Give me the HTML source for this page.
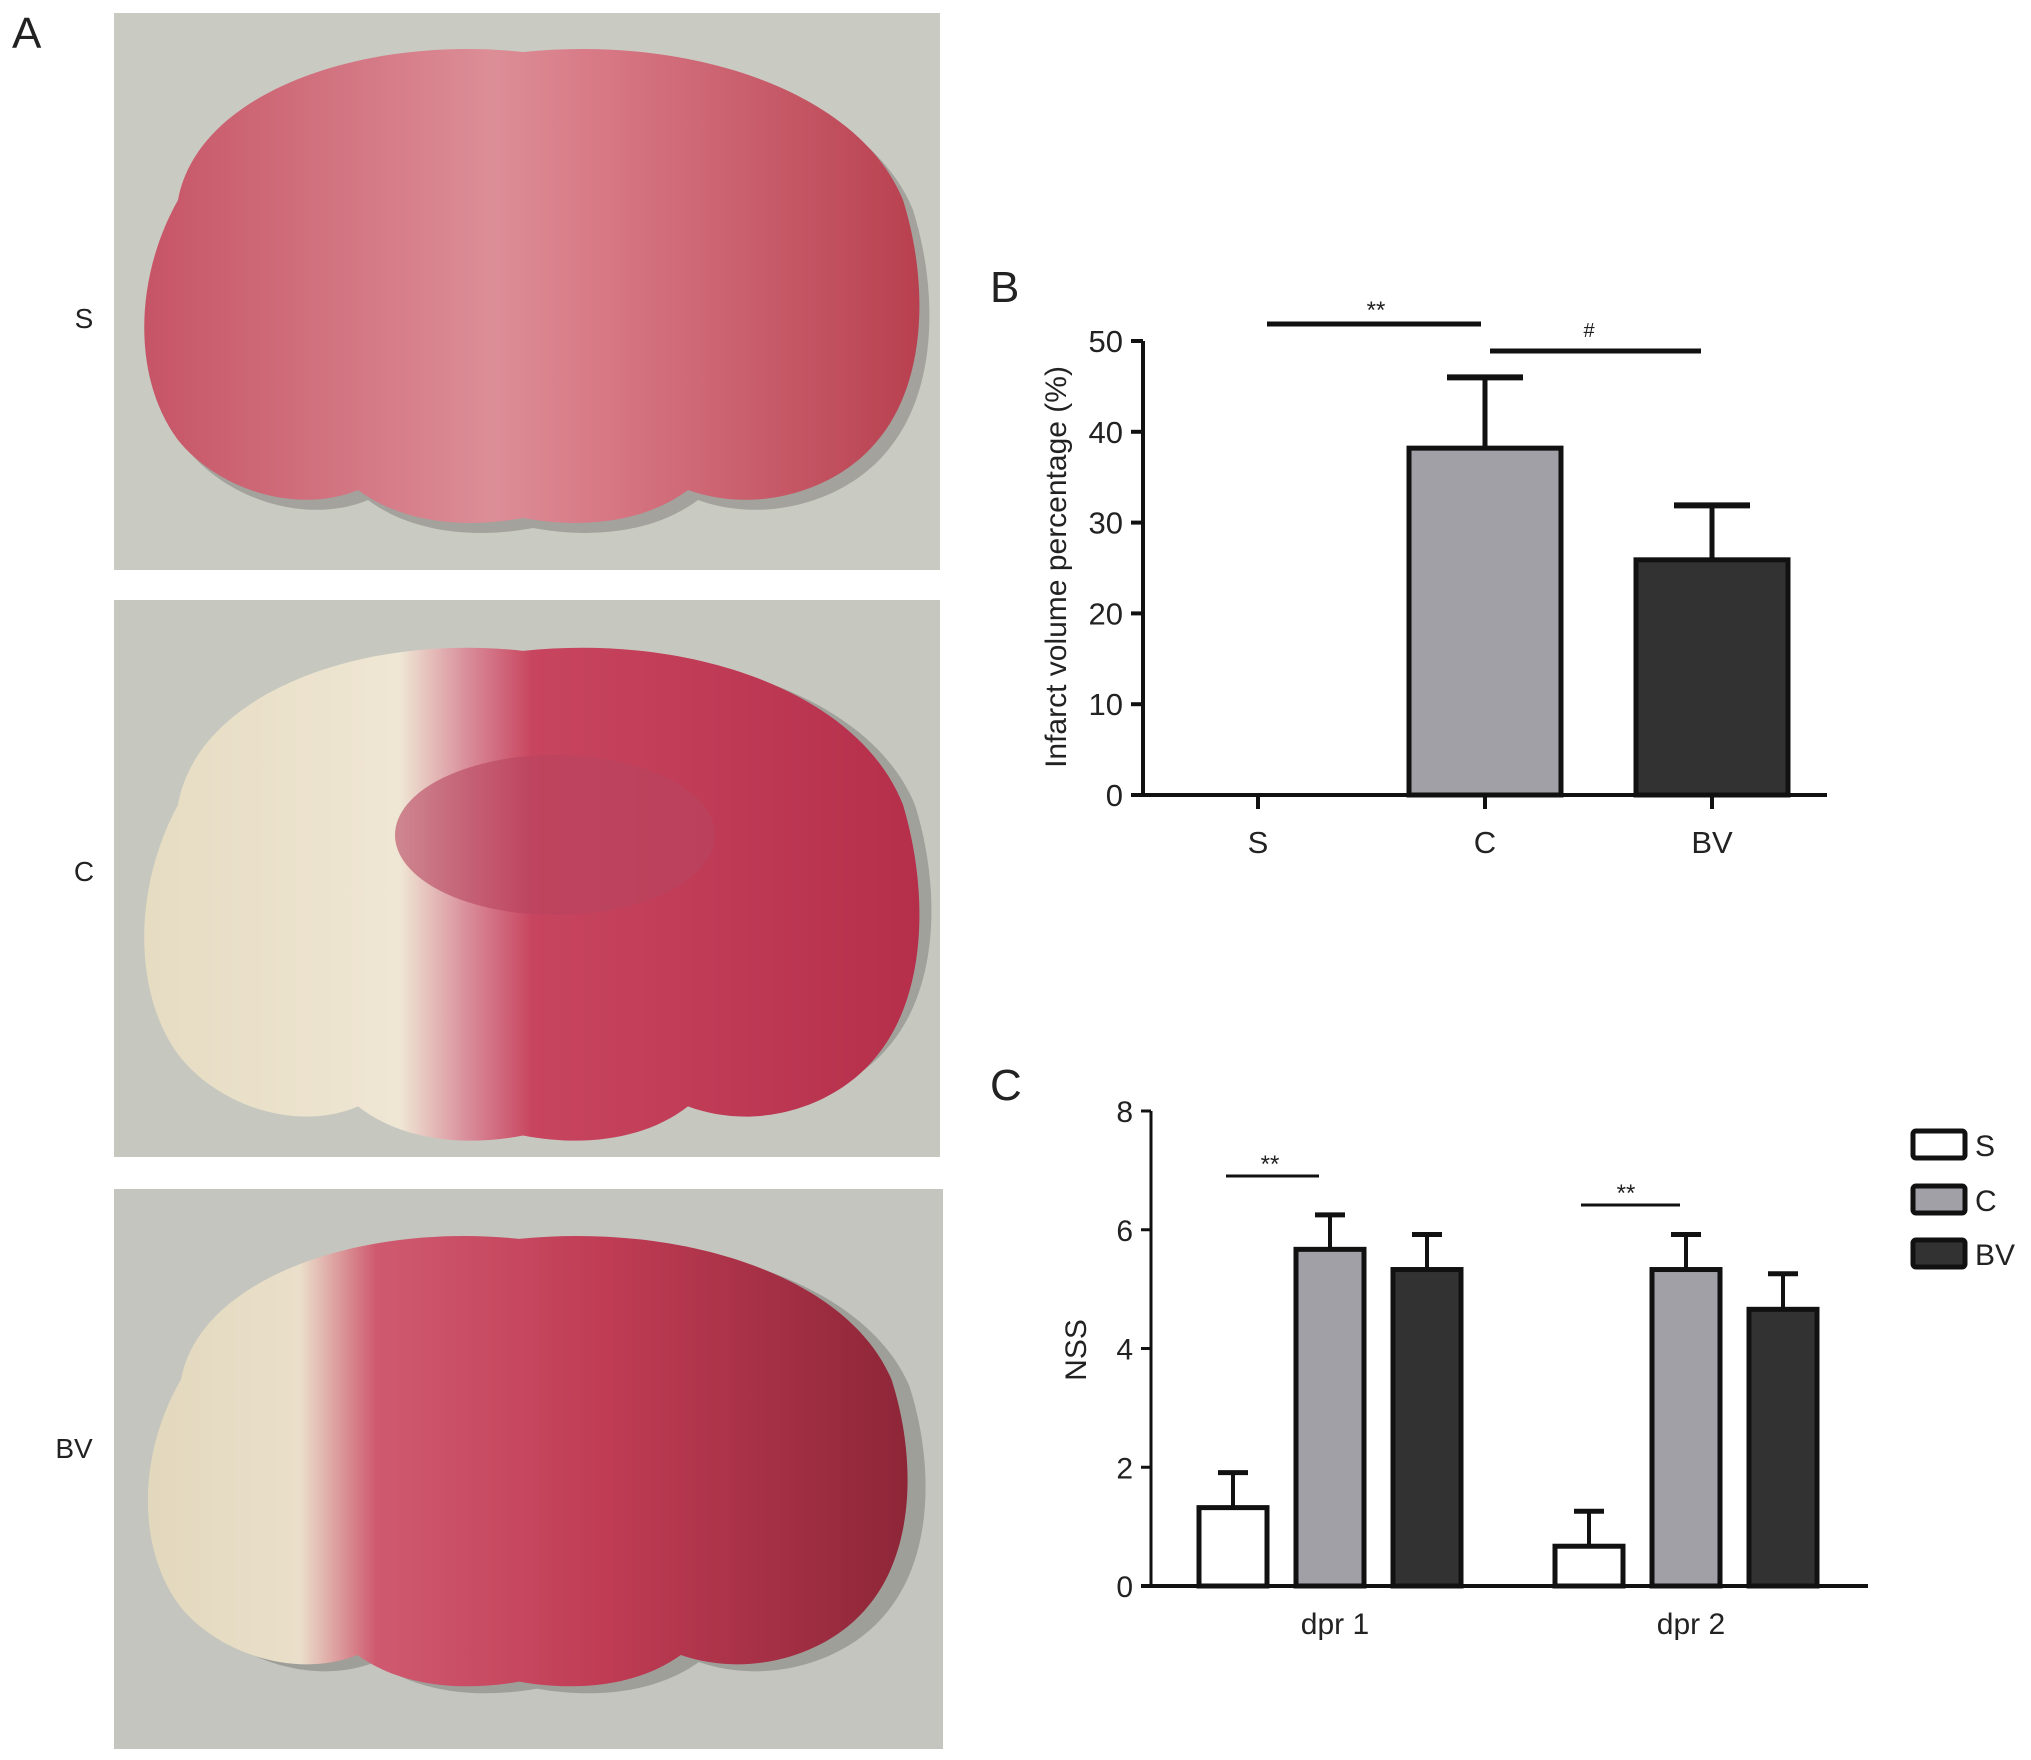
<!DOCTYPE html>
<html><head><meta charset="utf-8"><style>
body{margin:0;background:#fff;width:2031px;height:1760px;overflow:hidden;font-family:"Liberation Sans",Arial,sans-serif}
svg{position:absolute;left:0;top:0}
</style></head><body>
<svg id="fig" width="2031" height="1760" viewBox="0 0 2031 1760" xmlns="http://www.w3.org/2000/svg">
<defs>
<linearGradient id="g1" x1="0" x2="1" y1="0" y2="0"><stop offset="0" stop-color="#c65466"/><stop offset="0.45" stop-color="#dc8e97"/><stop offset="0.6" stop-color="#d77784"/><stop offset="1" stop-color="#b8404f"/></linearGradient>
<linearGradient id="g2" x1="0" x2="1" y1="0" y2="0"><stop offset="0" stop-color="#e6dcc2"/><stop offset="0.33" stop-color="#efe6d4"/><stop offset="0.42" stop-color="#d88a98"/><stop offset="0.5" stop-color="#c8455f"/><stop offset="1" stop-color="#b52f4b"/></linearGradient>
<linearGradient id="g3" x1="0" x2="1" y1="0" y2="0"><stop offset="0" stop-color="#e2d8bd"/><stop offset="0.2" stop-color="#eadfca"/><stop offset="0.3" stop-color="#cf5a70"/><stop offset="0.6" stop-color="#c03c55"/><stop offset="1" stop-color="#8e2638"/></linearGradient>
</defs>
<g id="panel-a">
<text x="12" y="48" font-size="44" fill="#222">A</text>
<rect x="114" y="13" width="826" height="557" fill="#c9cac2"/>
<rect x="114" y="600" width="826" height="557" fill="#c6c8c0"/>
<rect x="114" y="1189" width="829" height="560" fill="#c4c5be"/>
<path transform="translate(138,40) scale(1.0,1.0)" d="M50,170 C70,60 240,5 395,22 C560,5 730,60 775,170 C800,250 800,350 750,410 C710,460 630,485 560,460 C520,490 460,500 395,488 C330,500 270,490 230,460 C170,485 90,460 50,410 C5,350 5,250 50,170 Z" fill="#5b5a55" opacity="0.35"/>
<path transform="translate(128,30)" d="M50,170 C70,60 240,5 395,22 C560,5 730,60 775,170 C800,250 800,350 750,410 C710,460 630,485 560,460 C520,490 460,500 395,488 C330,500 270,490 230,460 C170,485 90,460 50,410 C5,350 5,250 50,170 Z" fill="url(#g1)"/>
<path transform="translate(140,635)" d="M50,170 C70,60 240,5 395,22 C560,5 730,60 775,170 C800,250 800,350 750,410 C710,460 630,485 560,460 C520,490 460,500 395,488 C330,500 270,490 230,460 C170,485 90,460 50,410 C5,350 5,250 50,170 Z" fill="#5b5a55" opacity="0.35"/>
<path transform="translate(128,628) scale(1.0,1.04)" d="M50,170 C70,60 240,5 395,22 C560,5 730,60 775,170 C800,250 800,350 750,410 C710,460 630,485 560,460 C520,490 460,500 395,488 C330,500 270,490 230,460 C170,485 90,460 50,410 C5,350 5,250 50,170 Z" fill="url(#g2)"/>
<ellipse cx="555" cy="835" rx="160" ry="80" fill="#b8455f" opacity="0.6"/>
<path transform="translate(150,1225) scale(0.98,0.95)" d="M50,170 C70,60 240,5 395,22 C560,5 730,60 775,170 C800,250 800,350 750,410 C710,460 630,485 560,460 C520,490 460,500 395,488 C330,500 270,490 230,460 C170,485 90,460 50,410 C5,350 5,250 50,170 Z" fill="#5b5a55" opacity="0.35"/>
<path transform="translate(132,1218) scale(0.98,0.95)" d="M50,170 C70,60 240,5 395,22 C560,5 730,60 775,170 C800,250 800,350 750,410 C710,460 630,485 560,460 C520,490 460,500 395,488 C330,500 270,490 230,460 C170,485 90,460 50,410 C5,350 5,250 50,170 Z" fill="url(#g3)"/>
<text x="84" y="328" font-size="28" text-anchor="middle" fill="#222">S</text>
<text x="84" y="881" font-size="28" text-anchor="middle" fill="#222">C</text>
<text x="74" y="1458" font-size="28" text-anchor="middle" fill="#222">BV</text>
</g>
<g id="chartB"></g>
<g id="chartC"></g>
</svg>
<script>
const NS="http://www.w3.org/2000/svg";
const bCategories=["S","C","BV"];
const bValues=[0,38.2,25.9];
const bErrors=[0,7.8,6.0];
const bTicks=[0,10,20,30,40,50];
const cGroups=["dpr 1","dpr 2"];
const cSeries=["S","C","BV"];
const cS=[1.32,0.67];
const cC=[5.67,5.33];
const cBV=[5.33,4.66];
const cErrS=[0.59,0.59];
const cErrC=[0.58,0.59];
const cErrBV=[0.59,0.6];
const cTicks=[0,2,4,6,8];
const fills=["#ffffff","#a0a0a6","#323232"];

function mk(parent,tag,attrs){const e=document.createElementNS(NS,tag);for(const k in attrs)e.setAttribute(k,attrs[k]);parent.appendChild(e);return e;}

// Panel B
(function(){
const g=document.getElementById('chartB');
const x0=1143,x1=1827,yb=795,yt=341,vmax=50;
const y=v=>yb-(v/vmax)*(yb-yt);
const cx=i=>1258+i*227;
const bw=152;
let t=mk(g,'text',{x:990,y:302,'font-size':44,fill:'#222'});t.textContent='B';


let ax=mk(g,'line',{x1:x0,y1:yb,x2:x0,y2:yt,stroke:'#111','stroke-width':4});


let xa=mk(g,'line',{x1:x0-12,y1:yb,x2:x1,y2:yb,stroke:'#111','stroke-width':4});


bTicks.forEach(v=>{
 const tk=mk(g,'line',{x1:x0-12,y1:y(v),x2:x0,y2:y(v),stroke:'#111','stroke-width':4});
 
 
 const tl=mk(g,'text',{x:x0-20,y:y(v)+11,'font-size':31,'text-anchor':'end',fill:'#222'});tl.textContent=v;
 
 
});
bCategories.forEach((c,i)=>{
 const X=cx(i);
 const tk=mk(g,'line',{x1:X,y1:yb,x2:X,y2:yb+14,stroke:'#111','stroke-width':4});
 
 
 const tl=mk(g,'text',{x:X,y:853,'font-size':31,'text-anchor':'middle',fill:'#222'});tl.textContent=c;
 
 
 if(bValues[i]>0){
  const top=y(bValues[i]+bErrors[i]);
  const el=mk(g,'line',{x1:X,y1:y(bValues[i]),x2:X,y2:top,stroke:'#111','stroke-width':5});
  
  
  const cap=mk(g,'line',{x1:X-38,y1:top,x2:X+38,y2:top,stroke:'#111','stroke-width':6});
  
  
  const r=mk(g,'rect',{x:X-bw/2,y:y(bValues[i]),width:bw,height:yb-y(bValues[i]),fill:fills[i],stroke:'#111','stroke-width':5});
  
  
 }
});
const yt2=mk(g,'text',{x:0,y:0,'font-size':30,'text-anchor':'middle',fill:'#222',transform:'translate(1066,567) rotate(-90)'});yt2.textContent='Infarct volume percentage (%)';


const s1=mk(g,'line',{x1:1267,y1:324,x2:1481,y2:324,stroke:'#111','stroke-width':5});


const st1=mk(g,'text',{x:1376,y:318,'font-size':24,'text-anchor':'middle',fill:'#222'});st1.textContent='**';


const s2=mk(g,'line',{x1:1490,y1:351,x2:1701,y2:351,stroke:'#111','stroke-width':5});


const st2=mk(g,'text',{x:1589,y:337,'font-size':20,'text-anchor':'middle',fill:'#222'});st2.textContent='#';


})();

// Panel C
(function(){
const g=document.getElementById('chartC');
const x0=1151,x1=1868,yb=1586,yt=1111,vmax=8;
const y=v=>yb-(v/vmax)*(yb-yt);
const bw=68;
const groupStart=[1233,1589];
const series=[cS,cC,cBV], errs=[cErrS,cErrC,cErrBV];
let t=mk(g,'text',{x:990,y:1100,'font-size':44,fill:'#222'});t.textContent='C';


let ax=mk(g,'line',{x1:x0,y1:yb,x2:x0,y2:yt,stroke:'#111','stroke-width':3});


let xa=mk(g,'line',{x1:x0-10,y1:yb,x2:x1,y2:yb,stroke:'#111','stroke-width':4});


cTicks.forEach(v=>{
 const tk=mk(g,'line',{x1:x0-10,y1:y(v),x2:x0,y2:y(v),stroke:'#111','stroke-width':3});
 
 
 const tl=mk(g,'text',{x:x0-18,y:y(v)+11,'font-size':30,'text-anchor':'end',fill:'#222'});tl.textContent=v;
 
 
});
cGroups.forEach((gname,gi)=>{
 const tl=mk(g,'text',{x:groupStart[gi]+97+5,y:1634,'font-size':30,'text-anchor':'middle',fill:'#222'});tl.textContent=gname;
 
 
 series.forEach((arr,si)=>{
  const X=groupStart[gi]+si*97;
  const v=arr[gi], top=y(v+errs[si][gi]);
  const el=mk(g,'line',{x1:X,y1:y(v),x2:X,y2:top,stroke:'#111','stroke-width':4});
  
  
  const cap=mk(g,'line',{x1:X-15,y1:top,x2:X+15,y2:top,stroke:'#111','stroke-width':5});
  
  
  const r=mk(g,'rect',{x:X-bw/2,y:y(v),width:bw,height:yb-y(v),fill:fills[si],stroke:'#111','stroke-width':5});
  
  
 });
});
const yt2=mk(g,'text',{x:0,y:0,'font-size':30,'text-anchor':'middle',fill:'#222',transform:'translate(1086,1350) rotate(-90)'});yt2.textContent='NSS';


const s1=mk(g,'line',{x1:1226,y1:1176,x2:1319,y2:1176,stroke:'#111','stroke-width':3});


const st1=mk(g,'text',{x:1270,y:1172,'font-size':24,'text-anchor':'middle',fill:'#222'});st1.textContent='**';


const s2=mk(g,'line',{x1:1581,y1:1205,x2:1680,y2:1205,stroke:'#111','stroke-width':3});


const st2=mk(g,'text',{x:1626,y:1201,'font-size':24,'text-anchor':'middle',fill:'#222'});st2.textContent='**';


const ly=[1131,1186,1240];
cSeries.forEach((s,i)=>{
 const r=mk(g,'rect',{x:1913,y:ly[i],width:52,height:27,rx:3,fill:fills[i],stroke:'#111','stroke-width':5});
 
 
 const tl=mk(g,'text',{x:1975,y:ly[i]+25,'font-size':30,fill:'#222'});tl.textContent=s;
 
 
});
})();
</script>
</body></html>
